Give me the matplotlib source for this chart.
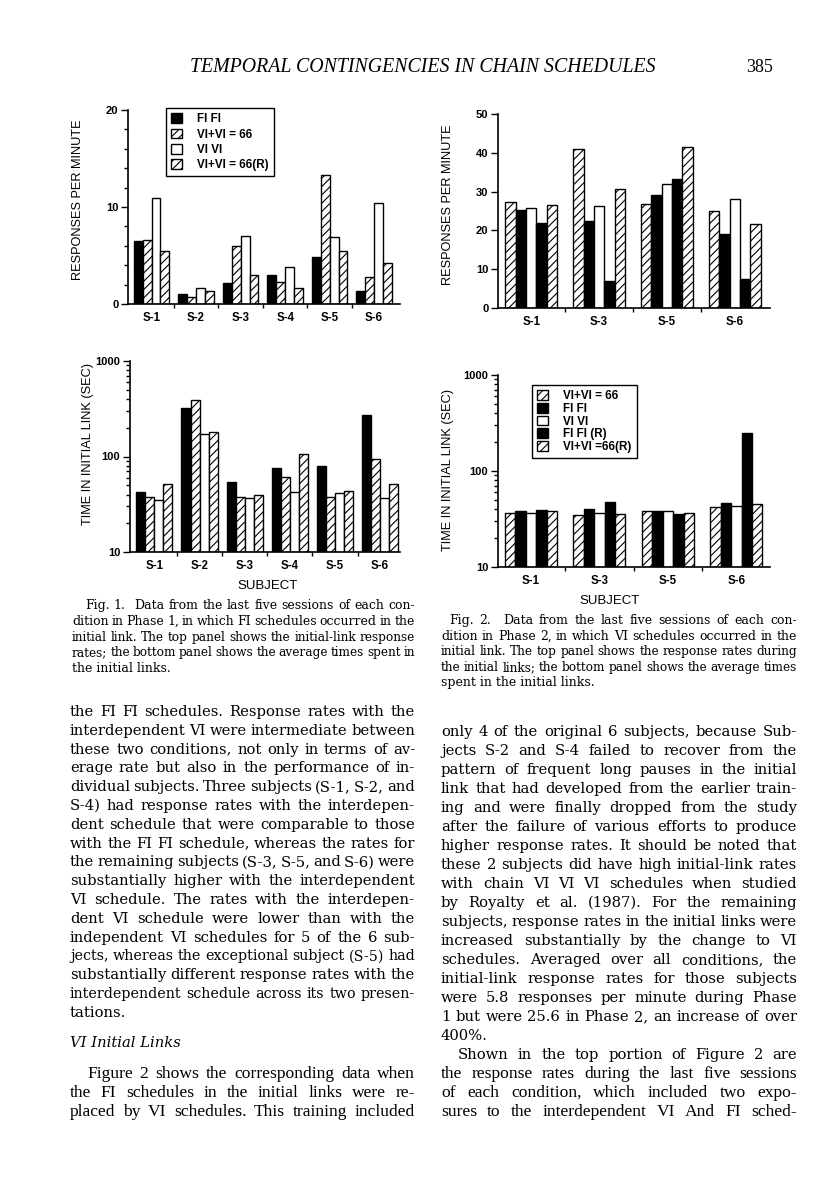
import numpy as np
import matplotlib.pyplot as plt
from matplotlib.patches import Patch
from matplotlib.ticker import NullFormatter

W, H = 816, 1200

# ---- data ----
subj1 = ["S-1", "S-2", "S-3", "S-4", "S-5", "S-6"]
cond1 = ["FI FI", "VI+VI = 66", "VI VI", "VI+VI = 66(R)"]
rate1_fifi = [6.5, 1.0, 2.2, 3.0, 4.8, 1.3]
rate1_vv66 = [6.6, 0.7, 6.0, 2.3, 13.3, 2.8]
rate1_vivi = [10.9, 1.7, 7.0, 3.8, 6.9, 10.4]
rate1_vv66r = [5.5, 1.3, 3.0, 1.6, 5.5, 4.2]
time1_fifi = [42, 320, 54, 76, 80, 270]
time1_vv66 = [38, 390, 38, 61, 38, 95]
time1_vivi = [35, 172, 37, 42, 41, 37]
time1_vv66r = [51, 180, 40, 106, 44, 51]

subj2 = ["S-1", "S-3", "S-5", "S-6"]
cond2 = ["VI+VI = 66", "FI FI", "VI VI", "FI FI (R)", "VI+VI =66(R)"]
rate2_vv66 = [27.2, 41.0, 26.8, 25.1]
rate2_fifi = [25.3, 22.3, 29.2, 19.1]
rate2_vivi = [25.9, 26.3, 31.9, 28.1]
rate2_fifir = [21.9, 7.0, 33.2, 7.5]
rate2_vv66r = [26.6, 30.7, 41.5, 21.7]
time2_vv66 = [36.6, 35.2, 38, 42.3]
time2_fifi = [38, 39.9, 38, 46.9]
time2_vivi = [36.6, 36.9, 38, 43.3]
time2_fifir = [39.7, 47.6, 36, 250]
time2_vv66r = [38, 36, 36.9, 45.8]

BLACK = ("black", None)
HATCH = ("white", "////")
WHITE = ("white", None)

plt.rcParams["hatch.linewidth"] = 0.8
SANS = "Liberation Sans"

fig = plt.figure(figsize=(W / 100, H / 100), dpi=100)
fig.patch.set_facecolor("white")


def px_axes(l, t, r, b):
    return fig.add_axes([l / W, 1 - b / H, (r - l) / W, (b - t) / H])


def bars(ax, series, styles, width, log=False):
    x = np.arange(len(series[0]))
    k = len(series)
    for i, (vals, (fc, hatch)) in enumerate(zip(series, styles)):
        pos = x + (i - (k - 1) / 2) * width
        vals = np.asarray(vals, float)
        if log:
            ax.bar(pos, vals - 10, width, bottom=10, facecolor=fc, hatch=hatch,
                   edgecolor="black", linewidth=1)
        else:
            ax.bar(pos, vals, width, facecolor=fc, hatch=hatch,
                   edgecolor="black", linewidth=1)


def frame(ax, labels, xlim, ylabel, lx, ly):
    for s in ("top", "right"):
        ax.spines[s].set_visible(False)
    for s in ("left", "bottom"):
        ax.spines[s].set_linewidth(1.2)
    n = len(labels)
    ax.set_xlim(*xlim)
    ax.set_xticks(np.arange(n - 1) + 0.5)
    ax.set_xticklabels([""] * (n - 1))
    ax.set_xticks(np.arange(n), minor=True)
    ax.set_xticklabels(labels, minor=True, fontsize=8.3, fontweight="bold", family=SANS)
    ax.tick_params(axis="x", which="major", length=3, width=1)
    ax.tick_params(axis="x", which="minor", length=0, pad=6)
    ax.tick_params(axis="y", which="major", length=5, width=1, labelsize=8, pad=2)
    ax.tick_params(axis="y", which="minor", length=3, width=1)
    for t in ax.get_yticklabels():
        t.set_fontweight("bold")
        t.set_family(SANS)
    ax.set_ylabel(ylabel, fontsize=9.2, family=SANS)
    ax.yaxis.set_label_coords(lx, ly)


def legend(ax, handles, labels, anchor, spacing):
    lg = ax.legend(handles, labels, loc="upper left", bbox_to_anchor=anchor, frameon=True,
                   fancybox=False, edgecolor="black", framealpha=1, handlelength=0.9,
                   handleheight=0.9, handletextpad=1.3, labelspacing=spacing,
                   borderpad=0.45, borderaxespad=0,
                   prop={"family": SANS, "weight": "bold", "size": 8.4})
    lg.get_frame().set_linewidth(1)


# Fig 1 top
ax1 = px_axes(128, 110, 400, 304)
bars(ax1, [rate1_fifi, rate1_vv66, rate1_vivi, rate1_vv66r], [BLACK, HATCH, WHITE, HATCH], 0.2)
ax1.set_ylim(0, 20)
ax1.set_yticks([0, 10, 20])
ax1.set_yticks(np.arange(0, 21, 2), minor=True)
frame(ax1, subj1, (-0.53, 5.58), "RESPONSES PER MINUTE", -0.162, 0.54)
h1 = [Patch(facecolor=fc, hatch=hh, edgecolor="black", linewidth=1)
      for fc, hh in [BLACK, HATCH, WHITE, HATCH]]
legend(ax1, h1, cond1, (0.14, 1.01), 0.28)

# Fig 1 bottom
ax2 = px_axes(130, 361, 400, 552)
ax2.set_yscale("log")
bars(ax2, [time1_fifi, time1_vv66, time1_vivi, time1_vv66r], [BLACK, HATCH, WHITE, HATCH], 0.2, log=True)
ax2.set_ylim(10, 1000)
ax2.set_yticks([10, 100, 1000], ["10", "100", "1000"])
ax2.yaxis.set_minor_formatter(NullFormatter())
frame(ax2, subj1, (-0.54, 5.44), "TIME IN INITIAL LINK (SEC)", -0.135, 0.565)

# Fig 2 top
ax3 = px_axes(498, 114, 770, 308)
bars(ax3, [rate2_vv66, rate2_fifi, rate2_vivi, rate2_fifir, rate2_vv66r],
     [HATCH, BLACK, WHITE, BLACK, HATCH], 0.153)
ax3.set_ylim(0, 50)
ax3.set_yticks([0, 10, 20, 30, 40, 50])
frame(ax3, subj2, (-0.49, 3.52), "RESPONSES PER MINUTE", -0.162, 0.53)

# Fig 2 bottom
ax4 = px_axes(498, 375, 770, 567)
ax4.set_yscale("log")
bars(ax4, [time2_vv66, time2_fifi, time2_vivi, time2_fifir, time2_vv66r],
     [HATCH, BLACK, WHITE, BLACK, HATCH], 0.152, log=True)
ax4.set_ylim(10, 1000)
ax4.set_yticks([10, 100, 1000], ["10", "100", "1000"])
ax4.yaxis.set_minor_formatter(NullFormatter())
frame(ax4, subj2, (-0.48, 3.49), "TIME IN INITIAL LINK (SEC)", -0.162, 0.505)
h2 = [Patch(facecolor=fc, hatch=hh, edgecolor="black", linewidth=1)
      for fc, hh in [HATCH, BLACK, WHITE, BLACK, HATCH]]
legend(ax4, h2, cond2, (0.125, 0.948), 0.06)

fig.text(268 / W, 1 - 586 / H, "SUBJECT", ha="center", va="center", fontsize=9.5, family=SANS)
fig.text(610 / W, 1 - 601 / H, "SUBJECT", ha="center", va="center", fontsize=9.5, family=SANS)

# ---- page text ----
renderer = fig.canvas.get_renderer()


def measure(s, **kw):
    if not s:
        return 0.0
    t = fig.text(0, 0, s, **kw)
    w = t.get_window_extent(renderer).width
    t.remove()
    return w


def para(lines, x0, x1, y0, dy, justify_last=False, indent=0, **kw):
    for i, line in enumerate(lines):
        y = 1 - (y0 + i * dy) / H
        left = x0 + (indent if i == 0 else 0)
        words = line.split(" ")
        if (i == len(lines) - 1 and not justify_last) or len(words) == 1:
            fig.text(left / W, y, line, va="baseline", **kw)
            continue
        opts = dict(kw)
        widths = [measure(w, **opts) for w in words]
        gap = (x1 - left - sum(widths)) / (len(words) - 1)
        # shrink the line a little if it would not fit with a normal space
        while gap < 2.5:
            opts["fontsize"] *= 0.97
            widths = [measure(w, **opts) for w in words]
            gap = (x1 - left - sum(widths)) / (len(words) - 1)
        x = left
        for w, wd in zip(words, widths):
            if w:
                fig.text(x / W, y, w, va="baseline", **opts)
            x += wd + gap


body = dict(family="DejaVu Serif", fontsize=10.6)
narrow = dict(family="Liberation Serif", fontsize=12.6)
cap = dict(family="DejaVu Serif", fontsize=9.0)

fig.text(423 / W, 1 - 68 / H, "TEMPORAL CONTINGENCIES IN CHAIN SCHEDULES", ha="center",
         va="center", family="Liberation Serif", style="italic", fontsize=14.3)
fig.text(760 / W, 1 - 68 / H, "385", ha="center", va="center",
         family="Liberation Serif", fontsize=13)

cap1 = ["Fig. 1.  Data from the last five sessions of each con-",
        "dition in Phase 1, in which FI schedules occurred in the",
        "initial link. The top panel shows the initial-link response",
        "rates; the bottom panel shows the average times spent in",
        "the initial links."]
cap2 = ["Fig. 2.  Data from the last five sessions of each con-",
        "dition in Phase 2, in which VI schedules occurred in the",
        "initial link. The top panel shows the response rates during",
        "the initial links; the bottom panel shows the average times",
        "spent in the initial links."]
para(cap1, 72, 415, 609, 15.8, indent=13, **cap)
para(cap2, 441, 797, 624, 15.6, indent=8, **cap)

left1 = ["the FI FI schedules. Response rates with the",
         "interdependent VI were intermediate between",
         "these two conditions, not only in terms of av-",
         "erage rate but also in the performance of in-",
         "dividual subjects. Three subjects (S-1, S-2, and",
         "S-4) had response rates with the interdepen-",
         "dent schedule that were comparable to those",
         "with the FI FI schedule, whereas the rates for",
         "the remaining subjects (S-3, S-5, and S-6) were",
         "substantially higher with the interdependent",
         "VI schedule. The rates with the interdepen-",
         "dent VI schedule were lower than with the",
         "independent VI schedules for 5 of the 6 sub-",
         "jects, whereas the exceptional subject (S-5) had",
         "substantially different response rates with the",
         "interdependent schedule across its two presen-",
         "tations."]
left2 = ["Figure 2 shows the corresponding data when",
         "the FI schedules in the initial links were re-",
         "placed by VI schedules. This training included"]
right1 = ["only 4 of the original 6 subjects, because Sub-",
          "jects S-2 and S-4 failed to recover from the",
          "pattern of frequent long pauses in the initial",
          "link that had developed from the earlier train-",
          "ing and were finally dropped from the study",
          "after the failure of various efforts to produce",
          "higher response rates. It should be noted that",
          "these 2 subjects did have high initial-link rates",
          "with chain VI VI VI schedules when studied",
          "by Royalty et al. (1987). For the remaining",
          "subjects, response rates in the initial links were",
          "increased substantially by the change to VI",
          "schedules. Averaged over all conditions, the",
          "initial-link response rates for those subjects",
          "were 5.8 responses per minute during Phase",
          "1 but were 25.6 in Phase 2, an increase of over",
          "400%."]
right2 = ["Shown in the top portion of Figure 2 are"]
right3 = ["the response rates during the last five sessions",
          "of each condition, which included two expo-",
          "sures to the interdependent VI And FI sched-"]

para(left1, 70, 415, 716, 18.8, **body)
fig.text(70 / W, 1 - 1047 / H, "VI Initial Links", va="baseline", style="italic", **body)
para(left2, 70, 415, 1078, 18.8, justify_last=True, indent=17, **narrow)
para(right1, 441, 797, 736, 19.0, **body)
para(right2, 441, 797, 1059, 19.0, justify_last=True, indent=17, **body)
para(right3, 441, 797, 1078, 18.8, justify_last=True, **narrow)

fig.savefig("out.png", dpi=100, facecolor="white")
